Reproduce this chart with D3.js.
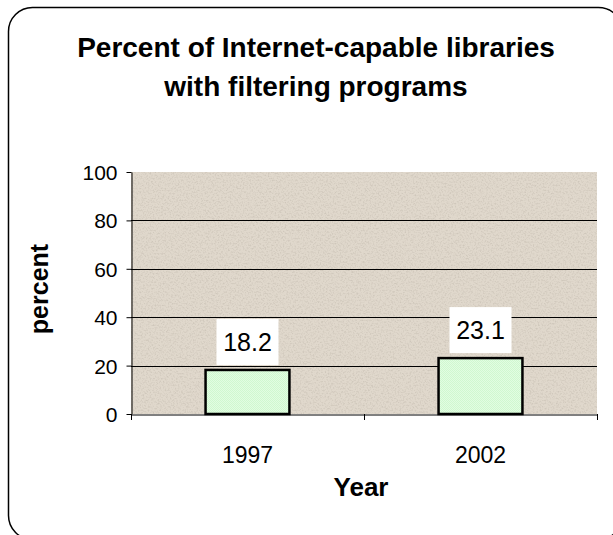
<!DOCTYPE html>
<html>
<head>
<meta charset="utf-8">
<script src="https://cdn.jsdelivr.net/npm/d3@7"></script>
<style>
  html, body { margin: 0; padding: 0; background: #ffffff; }
  svg { display: block; font-family: "Liberation Sans", Arial, sans-serif; }
</style>
</head>
<body>
<svg id="chart" width="613" height="535"></svg>
<script>
// Survey results: share of Internet-capable libraries using filtering software
const categories = ["1997", "2002"];
const values = [18.2, 23.1];
const yTicks = [0, 20, 40, 60, 80, 100];

const titleLines = ["Percent of Internet-capable libraries", "with filtering programs"];
const xTitle = "Year";
const yTitle = "percent";

const svg = d3.select("#chart");
const plot = { left: 131, right: 597, top: 172, bottom: 414 };

const defs = svg.append("defs");

// grainy parchment texture for the plot area
const grain = defs.append("filter").attr("id", "grain")
  .attr("x", 0).attr("y", 0).attr("width", 1).attr("height", 1);
grain.append("feTurbulence").attr("type", "fractalNoise")
  .attr("baseFrequency", 0.6).attr("numOctaves", 2).attr("seed", 7).attr("result", "n");
grain.append("feColorMatrix").attr("in", "n").attr("type", "matrix")
  .attr("values", "0 0 0 0 0.55  0 0 0 0 0.50  0 0 0 0 0.43  -2.6 0 0 0 1.45")
  .attr("result", "dark");
grain.append("feComposite").attr("in", "dark").attr("in2", "SourceGraphic").attr("operator", "in");

// fine dotted fill for the bars
const dots = defs.append("pattern").attr("id", "dots")
  .attr("width", 2).attr("height", 2).attr("patternUnits", "userSpaceOnUse");
dots.append("rect").attr("width", 2).attr("height", 2).attr("fill", "#e2fde2");
dots.append("rect").attr("width", 1).attr("height", 1).attr("fill", "#d0f8d0");
dots.append("rect").attr("x", 1).attr("y", 1).attr("width", 1).attr("height", 1).attr("fill", "#d0f8d0");

// rounded chart frame
svg.append("rect")
  .attr("x", 8.5).attr("y", 7.5).attr("width", 614).attr("height", 532)
  .attr("rx", 24).attr("ry", 24)
  .attr("fill", "#ffffff").attr("stroke", "#000000").attr("stroke-width", 1.5);

// title
const title = svg.append("text")
  .attr("text-anchor", "middle")
  .attr("font-weight", "bold").attr("font-size", 28).attr("fill", "#000");
titleLines.forEach((t, i) => {
  title.append("tspan").attr("x", 316).attr("y", 57 + i * 39).text(t);
});

const x = d3.scaleBand()
  .domain(categories)
  .range([plot.left, plot.right])
  .paddingInner(0.64)
  .paddingOuter(0.32);

const y = d3.scaleLinear()
  .domain([0, 100])
  .range([plot.bottom, plot.top]);

// plot background
svg.append("rect")
  .attr("x", plot.left).attr("y", plot.top)
  .attr("width", plot.right - plot.left).attr("height", plot.bottom - plot.top)
  .attr("fill", "#e0d8cc");
svg.append("rect")
  .attr("x", plot.left).attr("y", plot.top)
  .attr("width", plot.right - plot.left).attr("height", plot.bottom - plot.top)
  .attr("fill", "#e0d8cc")
  .attr("filter", "url(#grain)")
  .attr("opacity", 0.6);

// horizontal gridlines
svg.append("g")
  .selectAll("line")
  .data(yTicks.filter(v => v > 0 && v < 100))
  .join("line")
  .attr("x1", plot.left).attr("x2", plot.right)
  .attr("y1", d => Math.round(y(d)) + 0.5).attr("y2", d => Math.round(y(d)) + 0.5)
  .attr("stroke", "#000").attr("stroke-width", 1);

// bars
svg.append("g")
  .selectAll("rect")
  .data(values)
  .join("rect")
  .attr("x", (d, i) => x(categories[i]))
  .attr("y", d => y(d))
  .attr("width", x.bandwidth())
  .attr("height", d => y(0) - y(d))
  .attr("fill", "url(#dots)")
  .attr("stroke", "#000").attr("stroke-width", 2.5);

// y axis
const yAxis = svg.append("g")
  .attr("transform", `translate(${plot.left + 0.5},0)`)
  .call(d3.axisLeft(y).tickValues(yTicks).tickSize(5).tickSizeOuter(0).tickPadding(9));
yAxis.select(".domain").attr("stroke", "#000");
yAxis.selectAll(".tick line").attr("stroke", "#000");
yAxis.selectAll(".tick text")
  .attr("font-size", 21).attr("font-family", "Liberation Sans, Arial, sans-serif")
  .attr("fill", "#000").attr("dy", "0.36em");

// x axis: labels under each band, ticks at band boundaries
const xAxis = svg.append("g")
  .attr("transform", `translate(0,${plot.bottom + 0.5})`)
  .call(d3.axisBottom(x).tickSize(0).tickPadding(32));
xAxis.select(".domain").attr("stroke", "#000");
xAxis.selectAll(".tick text")
  .attr("font-size", 23).attr("font-family", "Liberation Sans, Arial, sans-serif")
  .attr("fill", "#000");

const step = x.step();
const boundaries = [plot.left].concat(categories.map(c => x(c) + x.bandwidth() + step * x.paddingInner() / 2));
svg.append("g")
  .selectAll("line")
  .data(boundaries)
  .join("line")
  .attr("x1", d => Math.round(d) + 0.5).attr("x2", d => Math.round(d) + 0.5)
  .attr("y1", plot.bottom).attr("y2", plot.bottom + 6)
  .attr("stroke", "#000");

// value labels on white boxes
const labels = svg.append("g")
  .selectAll("g")
  .data(values)
  .join("g")
  .attr("transform", (d, i) => `translate(${x(categories[i]) + x.bandwidth() / 2},${y(d) - 5})`);
labels.append("rect")
  .attr("x", -31).attr("y", -46).attr("width", 62).attr("height", 46)
  .attr("fill", "#ffffff");
labels.append("text")
  .attr("text-anchor", "middle")
  .attr("y", -14)
  .attr("font-size", 25).attr("fill", "#000")
  .text(d => d.toFixed(1));

// axis titles
svg.append("text")
  .attr("x", 361).attr("y", 496)
  .attr("text-anchor", "middle")
  .attr("font-weight", "bold").attr("font-size", 26)
  .text(xTitle);

svg.append("text")
  .attr("transform", `translate(48,${(plot.top + plot.bottom) / 2 - 4}) rotate(-90)`)
  .attr("text-anchor", "middle")
  .attr("font-weight", "bold").attr("font-size", 25)
  .text(yTitle);
</script>
</body>
</html>
